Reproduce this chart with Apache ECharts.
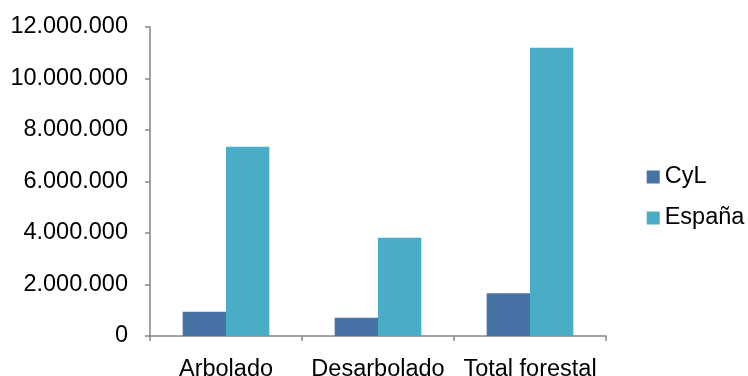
<!DOCTYPE html>
<html><head><meta charset="utf-8">
<script src="https://cdn.jsdelivr.net/npm/echarts@6/dist/echarts.min.js"></script>
<style>html,body{margin:0;padding:0;background:#fff}#c{width:748px;height:376px}</style>
</head><body><div id="c"></div>
<script>
const categories = ['Arbolado', 'Desarbolado', 'Total forestal'];
const cyl = [940000, 710000, 1660000];
const espana = [7340000, 3810000, 11180000];
const seriesNames = ['CyL', 'España'];
const yMin = 0, yMax = 12000000, yInterval = 2000000;

function fmt(v){ return String(Math.round(v)).replace(/\B(?=(\d{3})+(?!\d))/g, '.'); }

const chart = echarts.init(document.getElementById('c'));
const font = 'Liberation Sans, Arial, sans-serif';
const fs = 23.5;
chart.setOption({
  animation: false,
  grid: { left: 150, right: 142, top: 26.7, bottom: 40, containLabel: false, outerBoundsMode: 'none' },
  legend: {
    orient: 'vertical', left: 646.7, top: 165, padding: 0,
    itemWidth: 13, itemHeight: 13, itemGap: 17,
    icon: 'rect',
    textStyle: { fontFamily: font, fontSize: fs, color: '#000' },
    data: seriesNames
  },
  xAxis: {
    type: 'category', data: categories,
    axisLine: { lineStyle: { color: '#868686', width: 1.5 } },
    axisTick: { show: true, length: 5, lineStyle: { color: '#868686', width: 1.5 } },
    axisLabel: { fontFamily: font, fontSize: fs, color: '#000', margin: 22, interval: 0, hideOverlap: false }
  },
  yAxis: {
    type: 'value', min: yMin, max: yMax, interval: yInterval,
    axisLine: { show: true, lineStyle: { color: '#868686', width: 1.5 } },
    axisTick: { show: true, length: 5, lineStyle: { color: '#868686', width: 1.5 } },
    splitLine: { show: false },
    axisLabel: { fontFamily: font, fontSize: fs, color: '#000', margin: 22, formatter: fmt }
  },
  series: [
    { name: seriesNames[0], type: 'bar', data: cyl, barGap: '0%', barCategoryGap: '43%',
      itemStyle: { color: '#4672A6' } },
    { name: seriesNames[1], type: 'bar', data: espana, barGap: '0%', barCategoryGap: '43%',
      itemStyle: { color: '#4AACC6' } }
  ]
});
</script></body></html>
